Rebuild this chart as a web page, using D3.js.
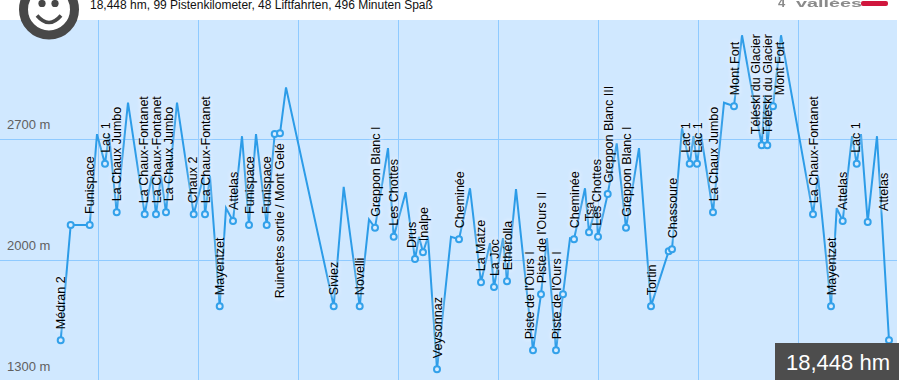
<!DOCTYPE html>
<html>
<head>
<meta charset="utf-8">
<script src="https://cdn.jsdelivr.net/npm/d3@7/dist/d3.min.js"></script>
<style>
html,body{margin:0;padding:0;background:#fff;overflow:hidden}
svg{display:block}
text{font-family:"Liberation Sans",Arial,sans-serif}
.stop-label{text-shadow:0 0 5px rgba(255,255,255,.9),0 0 9px rgba(255,255,255,.6)}
</style>
</head>
<body>
<svg id="chart" width="901" height="382"></svg>
<script>
const headline = "18,448 hm, 99 Pistenkilometer, 48 Liftfahrten, 496 Minuten Spaß";
const totalLabel = "18,448 hm";
const elevationTicks = [2700, 2000, 1300];
const distanceGrid = [98.5, 198.5, 298.5, 398.5, 498.5, 598.5, 698.5, 798.5];
const routeDistance = [60.7,70.7,89.7,97,105,109,116.7,128,144.7,151.7,156,161,166,177,193.7,203.5,205,210,219.7,226,233,242,249,256,266.7,274.7,280,286,333.7,343.7,359.7,369,375,388,393.7,405.7,415,419,423,428,437,451,459,470,481,490,494,503,507,516,533,541,547,556,563,570,574,585,589,596,598,607.7,616.7,626,639,651,668.7,672,682,689.7,693.5,697,701,713,724,734,742,761.7,765,767.3,772,773,781,813,818,831,836.7,842.7,852,856.7,861,867.7,877,889];
const routeElevation = [1539,2206,2206,2731,2559,2731,2279,2913,2268,2488,2268,2488,2279,2913,2268,2488,2268,2488,1736,2303,2229,2719,2206,2731,2206,2732,2736,3001,1736,2426,1736,2237,2189,2650,2137,2395,2008,2137,2048,2137,1371,2137,2123,2418,1874,2100,1846,2129,1880,2413,1481,1805,2129,1481,1805,2129,2123,2418,2164,2314,2137,2384,2677,2189,2650,1736,2054,2065,2765,2559,2719,2559,2731,2279,2913,2893,3303,2667,2956,2667,2913,2893,3303,2268,2488,1736,2303,2229,2719,2559,2731,2223,2719,1539];
// null: a turning point without a stop; "": a stop without a name
const stopNames = ["Médran 2","","Funispace",null,"Lac 1",null,"La Chaux Jumbo",null,"La Chaux-Fontanet",null,"La Chaux-Fontanet",null,"La Chaux Jumbo",null,"Chaux 2",null,"La Chaux-Fontanet",null,"Mayentzet",null,"Attelas",null,"Funispace",null,"Funispace","","Ruinettes sortie / Mont Gelé",null,"Siviez",null,"Novelli",null,"Greppon Blanc I",null,"Les Chottes",null,"Drus",null,"Inalpe",null,"Veysonnaz",null,"Cheminée",null,"La Matze",null,"La Joc",null,"Ethérolla",null,"Piste de l'Ours I","Piste de l'Ours II",null,"Piste de l'Ours I","",null,"Cheminée",null,"Tsa",null,"Les Chottes","Greppon Blanc III",null,"Greppon Blanc I",null,"Tortin","","Chassoure",null,"Lac 1",null,"Lac 1",null,"La Chaux Jumbo",null,"Mont Fort",null,"Téléski du Glacier",null,"Téléski du Glacier",null,"Mont Fort",null,"La Chaux-Fontanet",null,"Mayentzet",null,"Attelas",null,"Lac 1",null,"Attelas",null,""];

// Layout only: sideways shifts the original applied so close labels do not collide.
const labelShift = {8:-1.5,12:2,14:-1,26:-1,36:-4,44:-1,50:-4,60:-2,61:1,69:-4.5,77:-6.5,81:6,89:-1,91:15.5};

const points = routeDistance.map((d,i)=>({d, e:routeElevation[i], name:stopNames[i], i}));
const svg = d3.select("#chart");
const W = 901, H = 382;
const x = d3.scaleLinear().domain([0,W]).range([0,W]);
const y = d3.scaleLinear().domain([1300,2700]).range([381.5,139.5]);

svg.append("rect").attr("width",W).attr("height",H).attr("fill","#fff");
svg.append("rect").attr("x",0).attr("y",20).attr("width",897).attr("height",360).attr("fill","#d0e8ff");

svg.selectAll(".gx").data(distanceGrid).join("line").attr("class","gx")
  .attr("x1",d=>x(d)).attr("x2",d=>x(d)).attr("y1",20).attr("y2",380)
  .attr("stroke","#8fcaff").attr("stroke-width",1);
svg.selectAll(".gy").data(elevationTicks.slice(0,2)).join("line").attr("class","gy")
  .attr("x1",0).attr("x2",897).attr("y1",d=>y(d)).attr("y2",d=>y(d))
  .attr("stroke","#8fcaff").attr("stroke-width",1);
svg.selectAll(".ty").data(elevationTicks).join("text").attr("class","ty")
  .attr("x",7).attr("y",d=>y(d)-11).text(d=>d+" m")
  .attr("font-size",13).attr("fill","#606060");

const line = d3.line().x(p=>x(p.d)).y(p=>y(p.e));
svg.append("path").datum(points).attr("d",line).attr("fill","none")
  .attr("stroke","#2c9ce8").attr("stroke-width",2).attr("stroke-linejoin","miter");

const stops = points.filter(p=>p.name!==null);
const labelled = stops.filter(p=>p.name);
const labels = svg.selectAll(".stop-label").data(labelled).join("text").attr("class","stop-label")
  .text(p=>p.name).attr("font-size",12.5).attr("fill","#000");
labels.each(function(p){
  const len = this.getComputedTextLength();
  const py = y(p.e), lx = x(p.d)+(labelShift[p.i]||0)+4.5;
  const flip = py-11-len < 20;
  d3.select(this)
    .attr("text-anchor",flip?"end":"start")
    .attr("transform",`translate(${lx},${flip?py+10:py-11}) rotate(-90)`);
});

svg.selectAll(".stop").data(stops).join("circle").attr("class","stop")
  .attr("cx",p=>x(p.d)).attr("cy",p=>y(p.e)).attr("r",3)
  .attr("fill","#d8ecff").attr("stroke","#33a1ea").attr("stroke-width",2);

// Header
svg.append("text").attr("x",90).attr("y",9).attr("font-size",12).attr("fill","#111").text(headline);

// Smiley badge
const badge = svg.append("g").attr("transform","translate(49,9.5)");
badge.append("circle").attr("r",25.5).attr("fill","#fff").attr("stroke","#484848").attr("stroke-width",9);
badge.selectAll(".eye").data([-7,6]).join("circle").attr("class","eye")
  .attr("cx",d=>d).attr("cy",-6).attr("r",3.6).attr("fill","#484848");
badge.append("path").attr("d","M-12,6 Q0,20 12,6").attr("fill","none").attr("stroke","#484848").attr("stroke-width",3.6);

// Blurred logo strip
const defs = svg.append("defs");
defs.append("filter").attr("id","soft").append("feGaussianBlur").attr("stdDeviation",0.7);
const logo = svg.append("g").attr("filter","url(#soft)");
logo.append("text").attr("x",778).attr("y",7).attr("font-size",13).attr("font-weight","bold").attr("fill","#8a8a8a").text("4");
logo.append("text").attr("x",796).attr("y",7).attr("font-size",11).attr("font-weight","bold").attr("fill","#8a8a8a")
  .attr("textLength",66).attr("lengthAdjust","spacingAndGlyphs").text("vallées");
logo.append("rect").attr("x",861).attr("y",1).attr("width",27).attr("height",5).attr("rx",2).attr("fill","#d0183c");

// Total box
svg.append("rect").attr("x",775).attr("y",343).attr("width",124).attr("height",37).attr("fill","#4d4d4d");
svg.append("text").attr("x",786).attr("y",370).attr("font-size",22).attr("fill","#fff").text(totalLabel);
</script>
</body>
</html>
